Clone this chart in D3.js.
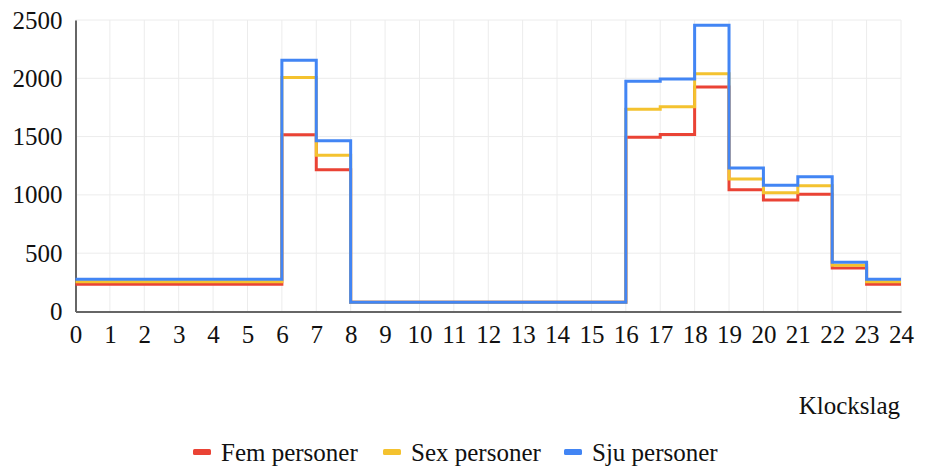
<!DOCTYPE html>
<html>
<head>
<meta charset="utf-8">
<style>
  text { font-family: "Liberation Serif", "Times New Roman", Tinos, serif !important; }
</style>
<script src="https://cdn.jsdelivr.net/npm/d3@7"></script>
</head>
<body style="margin:0;background:#ffffff">
<svg id="chart" width="927" height="467" font-family="Liberation Serif" style="display:block"></svg>
<script>
// Hourly values (hour 0..23); the last value is repeated to close the step at 24
const hours = d3.range(0, 25);
const femPersoner = [234, 234, 234, 234, 234, 234, 1515, 1215, 80, 80, 80, 80, 80, 80, 80, 80, 1495, 1518, 1926, 1044, 956, 1005, 374, 234, 234];
const sexPersoner = [255, 255, 255, 255, 255, 255, 2006, 1339, 80, 80, 80, 80, 80, 80, 80, 80, 1735, 1755, 2040, 1136, 1019, 1078, 397, 255, 255];
const sjuPersoner = [277, 277, 277, 277, 277, 277, 2154, 1464, 80, 80, 80, 80, 80, 80, 80, 80, 1975, 1994, 2456, 1230, 1082, 1156, 423, 277, 277];
const seriesNames = ["Fem personer", "Sex personer", "Sju personer"];
const seriesColors = ["#ea4335", "#f4c22f", "#4285f4"];
const yTicks = [0, 500, 1000, 1500, 2000, 2500];
const xTicks = d3.range(0, 25);
const xTitle = "Klockslag";

const series = [femPersoner, sexPersoner, sjuPersoner];
const FONT = "Liberation Serif";

const svg = d3.select("#chart");
const plotLeft = 75.5, plotRight = 901, plotTop = 20, plotBottom = 311.5;

const x = d3.scaleLinear().domain([0, 24]).range([plotLeft, plotRight]);
const y = d3.scaleLinear().domain([0, 2500]).range([plotBottom, plotTop]);

// Grid
const grid = svg.append("g");
grid.selectAll("line.v").data(xTicks.filter(d => d > 0)).join("line")
  .attr("class", "v")
  .attr("x1", d => x(d)).attr("x2", d => x(d))
  .attr("y1", plotTop).attr("y2", plotBottom)
  .attr("stroke", "#ececec").attr("stroke-width", 1);
grid.selectAll("line.h").data(yTicks.filter(d => d > 0)).join("line")
  .attr("class", "h")
  .attr("x1", plotLeft).attr("x2", plotRight)
  .attr("y1", d => y(d)).attr("y2", d => y(d))
  .attr("stroke", "#ececec").attr("stroke-width", 1);

// Axes
const xAxis = d3.axisBottom(x).tickValues(xTicks).tickSize(0).tickPadding(14).tickFormat(d3.format("d"));
const yAxis = d3.axisLeft(y).tickValues(yTicks).tickSize(0).tickPadding(13).tickFormat(d3.format("d"));

const gx = svg.append("g").attr("transform", `translate(0,${plotBottom})`).call(xAxis)
  .attr("font-family", FONT).attr("font-size", 25);
gx.select(".domain").attr("stroke", "#666").attr("stroke-width", 2);
gx.selectAll("text").attr("fill", "#111").attr("font-family", FONT);

const gy = svg.append("g").attr("transform", `translate(${plotLeft},0)`).call(yAxis)
  .attr("font-family", FONT).attr("font-size", 25);
gy.select(".domain").attr("stroke", "#666").attr("stroke-width", 2);
gy.selectAll("text").attr("fill", "#111").attr("font-family", FONT);

// Step lines
const line = d3.line()
  .x((d, i) => x(hours[i]))
  .y(d => y(d))
  .curve(d3.curveStepAfter);

svg.append("g").selectAll("path").data(series).join("path")
  .attr("d", d => line(d))
  .attr("fill", "none")
  .attr("stroke", (d, i) => seriesColors[i])
  .attr("stroke-width", 3);

// Axis title
svg.append("text")
  .attr("x", 900).attr("y", 414)
  .attr("text-anchor", "end")
  .attr("font-size", 25).attr("fill", "#111")
  .attr("font-family", FONT)
  .text(xTitle);

// Legend
const legendX = [193, 383, 564];
const legend = svg.append("g");
const items = legend.selectAll("g").data(seriesNames).join("g")
  .attr("transform", (d, i) => `translate(${legendX[i]},452)`);
items.append("rect")
  .attr("x", 0).attr("y", -3).attr("width", 18).attr("height", 6).attr("rx", 1.5)
  .attr("fill", (d, i) => seriesColors[i]);
items.append("text")
  .attr("x", 28).attr("y", 9)
  .attr("font-size", 25).attr("fill", "#111")
  .attr("font-family", FONT)
  .text(d => d);
</script>
</body>
</html>
